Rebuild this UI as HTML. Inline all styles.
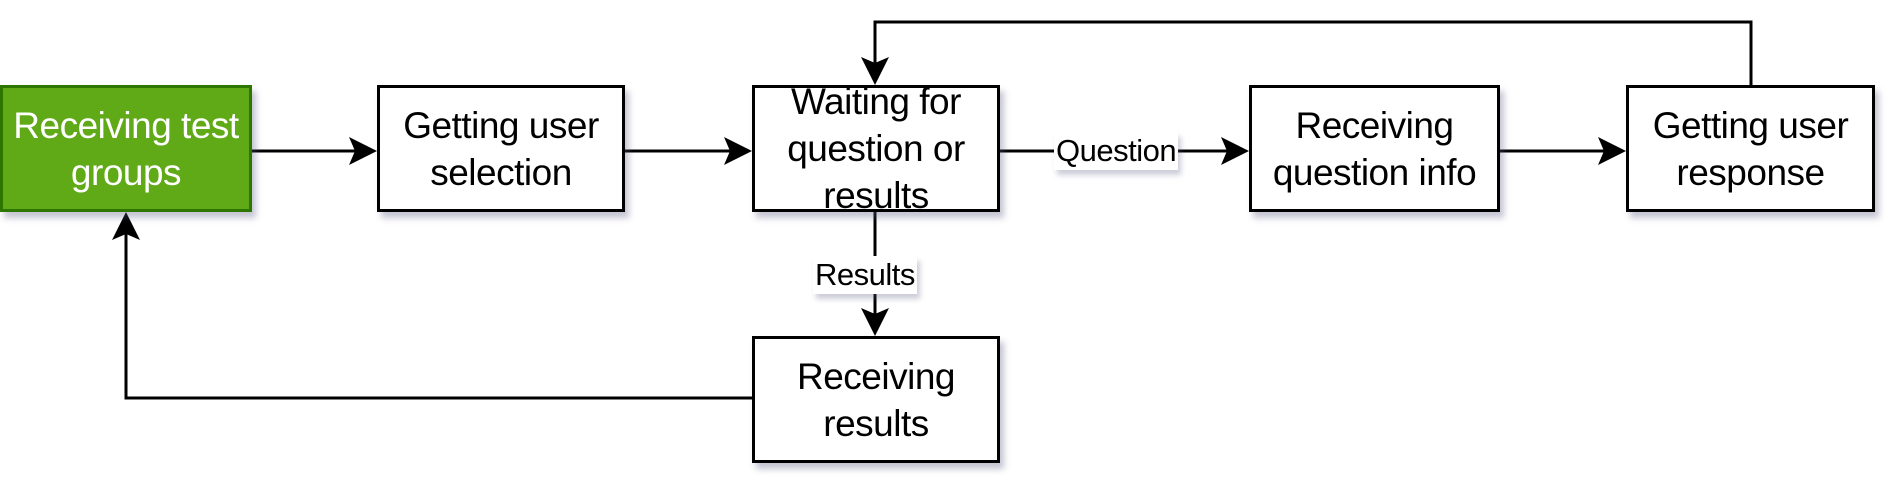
<!DOCTYPE html>
<html><head><meta charset="utf-8"><style>
html,body{margin:0;padding:0;background:#fff;}
.b{position:absolute;box-sizing:border-box;border:3px solid #000;background:#fff;display:flex;align-items:center;justify-content:center;text-align:center;font-family:"Liberation Sans",sans-serif;font-size:37px;line-height:47px;letter-spacing:-0.5px;box-shadow:4px 6px 6px rgba(90,90,130,0.35);white-space:nowrap;}
.l{position:absolute;font-family:"Liberation Sans",sans-serif;font-size:31px;background:#fff;line-height:38px;padding:0 2px;letter-spacing:-0.5px;box-shadow:3px 5px 5px rgba(90,90,130,0.3);}
</style></head><body>
<div style="position:relative;width:1896px;height:481px;overflow:hidden;">
<svg width="1896" height="481" style="position:absolute;left:0;top:0" xmlns="http://www.w3.org/2000/svg">
<g stroke="#000" stroke-width="3" fill="none">
<path d="M251 151 H362"/>
<path d="M625 151 H737"/>
<path d="M999 151 H1234"/>
<path d="M1499 151 H1611"/>
<path d="M1751 85 V22 H875 V70"/>
<path d="M875 212 V321"/>
<path d="M752 398 H126 V227"/>
</g>
<g fill="#000">
<path d="M377 151 L349 137 L355 151 L349 165 Z"/>
<path d="M752 151 L724 137 L730 151 L724 165 Z"/>
<path d="M1249 151 L1221 137 L1227 151 L1221 165 Z"/>
<path d="M1626 151 L1598 137 L1604 151 L1598 165 Z"/>
<path d="M875 85 L861 57 L875 63 L889 57 Z"/>
<path d="M875 336 L861 308 L875 314 L889 308 Z"/>
<path d="M126 212 L112 240 L126 234 L140 240 Z"/>
</g>
</svg>
<div class="b" style="left:0;top:85px;width:252px;height:127px;background:#60a917;border-color:#2d7600;color:#fff;">Receiving test<br>groups</div>
<div class="b" style="left:377px;top:85px;width:248px;height:127px;">Getting user<br>selection</div>
<div class="b" style="left:752px;top:85px;width:248px;height:127px;">Waiting for<br>question or<br>results</div>
<div class="b" style="left:1249px;top:85px;width:251px;height:127px;">Receiving<br>question info</div>
<div class="b" style="left:1626px;top:85px;width:249px;height:127px;">Getting user<br>response</div>
<div class="b" style="left:752px;top:336px;width:248px;height:127px;">Receiving<br>results</div>
<div class="l" style="left:1054px;top:132px;">Question</div>
<div class="l" style="left:813px;top:256px;">Results</div>
</div>
</body></html>
